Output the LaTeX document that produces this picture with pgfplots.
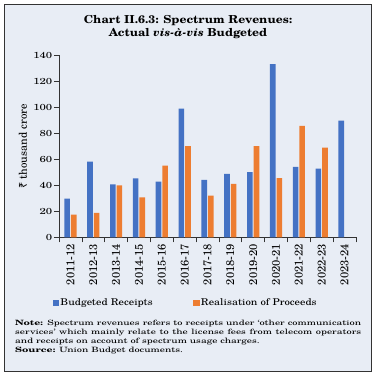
\documentclass[border=0pt]{standalone}
\usepackage{fontspec}
\usepackage{pgfplots}
\pgfplotsset{compat=1.18}
\setmainfont{texgyreschola}[Extension=.otf, UprightFont=*-regular, BoldFont=*-bold, ItalicFont=*-italic, BoldItalicFont=*-bolditalic]
\newfontfamily\titlefont{texgyreschola}[Extension=.otf, UprightFont=*-regular, BoldFont=*-bold, ItalicFont=*-italic, BoldItalicFont=*-bolditalic, FakeStretch=1.1]
\newfontfamily\tickfont{texgyreschola}[Extension=.otf, UprightFont=*-regular, BoldFont=*-bold, ItalicFont=*-italic, BoldItalicFont=*-bolditalic, FakeStretch=1.3]
\newfontfamily\legfont{texgyreschola}[Extension=.otf, UprightFont=*-regular, BoldFont=*-bold, ItalicFont=*-italic, BoldItalicFont=*-bolditalic, FakeStretch=1.16]
\newfontfamily\notefont{texgyreschola}[Extension=.otf, UprightFont=*-regular, BoldFont=*-bold, ItalicFont=*-italic, BoldItalicFont=*-bolditalic, FakeStretch=1.42]
\newfontfamily\rotfont{texgyreschola}[Extension=.otf, UprightFont=*-regular, BoldFont=*-bold, ItalicFont=*-italic, BoldItalicFont=*-bolditalic]
\newfontfamily\rupeefont{Noto Sans}
\definecolor{bgcol}{HTML}{E8EDF5}
\definecolor{barblue}{HTML}{4472C4}
\definecolor{barorange}{HTML}{ED7D31}
\definecolor{framecol}{HTML}{333333}
\begin{document}
\begin{tikzpicture}
\path[use as bounding box] (0bp,0bp) rectangle (377bp,376bp);
\fill[white] (0bp,0bp) rectangle (377bp,376bp);
\draw[framecol, line width=1bp, fill=bgcol] (4.5bp,4.5bp) rectangle (371.5bp,371.5bp);
\node[anchor=north, align=center, inner sep=0pt, font=\titlefont\bfseries\fontsize{11bp}{13bp}\selectfont] at (188bp,361bp)
  {Chart II.6.3: Spectrum Revenues:\\Actual \textit{vis-à-vis} Budgeted};
\begin{axis}[
  at={(59bp,138.7bp)}, anchor=south west,
  scale only axis, width=297bp, height=182bp,
  xmin=-0.5, xmax=12.5, ymin=0, ymax=140,
  ytick={0,20,...,140},
  xtick={0,...,12},
  xticklabels={2011-12,2012-13,2013-14,2014-15,2015-16,2016-17,2017-18,2018-19,2019-20,2020-21,2021-22,2022-23,2023-24},
  minor xtick={-0.5,0.5,...,12.5},
  major x tick style={draw=none},
  tick align=outside,
  major tick length=5bp, minor tick length=5bp,
  tick style={framecol, line width=0.6bp},
  axis x line*=bottom, axis y line*=left,
  axis line style={-, framecol, line width=0.7bp},
  /pgf/number format/assume math mode=true,
  yticklabel style={font=\tickfont\fontsize{8.75bp}{10bp}\selectfont, inner sep=1.5bp},
  xticklabel style={font=\rotfont\fontsize{11.2bp}{12bp}\selectfont, rotate=90, anchor=east, inner sep=1.5bp},
  every axis y label/.style={at={(axis description cs:-0.1212,0.5)}, rotate=90, anchor=center, font=\rotfont\fontsize{10.9bp}{12bp}\selectfont},
  ylabel={{\rupeefont ₹} thousand crore},
  ybar=1bp, bar width=5.6bp,
  legend columns=2,
  legend style={at={(axis description cs:-0.022,-0.36)}, anchor=west, draw=none, fill=none, inner sep=0pt,
    font=\legfont\fontsize{9.3bp}{10bp}\selectfont,
    nodes={inner sep=1.2bp},
    /tikz/every even column/.append style={column sep=39bp}},
]
\addplot[fill=barblue, draw=none, legend image code/.code={\fill[barblue] (0bp,-3.3bp) rectangle (6.6bp,3.3bp);}] coordinates {
(0,29.7) (1,58.2) (2,40.7) (3,45.4) (4,42.8) (5,98.9) (6,44.1) (7,48.7) (8,50.2) (9,133.3) (10,54.1) (11,52.8) (12,89.7)};
\addplot[fill=barorange, draw=none, legend image code/.code={\fill[barorange] (0bp,-3.3bp) rectangle (6.6bp,3.3bp);}] coordinates {
(0,17.4) (1,18.7) (2,40.0) (3,30.8) (4,55.1) (5,70.2) (6,32.0) (7,41.0) (8,70.2) (9,45.6) (10,85.8) (11,68.9)};
\legend{Budgeted Receipts, Realisation of Proceeds}
\end{axis}
\node[anchor=north west, inner sep=0pt, text width=346bp, align=justify, font=\notefont\fontsize{7.3bp}{9.1bp}\selectfont] at (15bp,56bp)
  {\textbf{Note:} Spectrum revenues refers to receipts under ‘other communication\linebreak services’ which mainly relate to the license fees from telecom operators\linebreak and receipts on account of spectrum usage charges.\\ \textbf{Source:} Union Budget documents.};
\end{tikzpicture}
\end{document}
